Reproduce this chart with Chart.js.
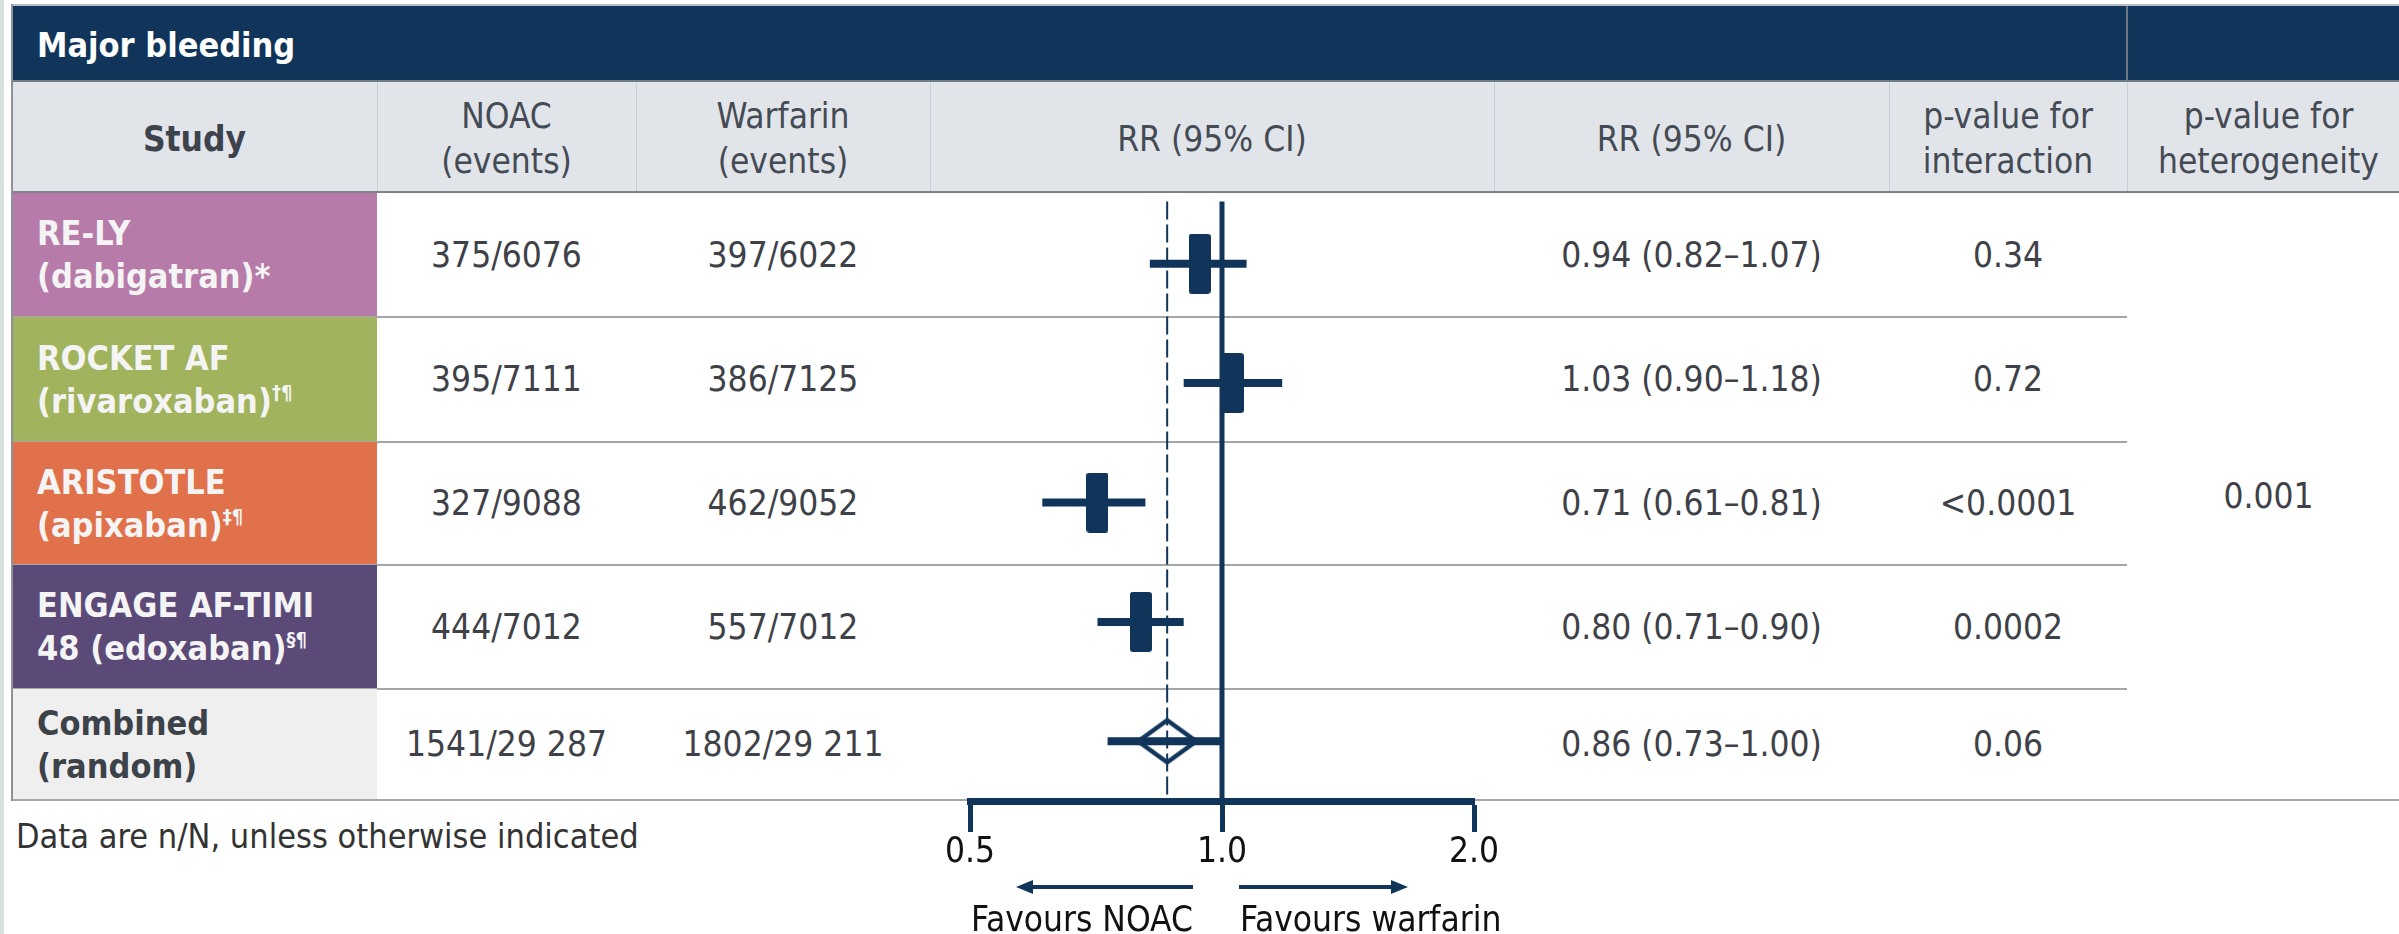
<!DOCTYPE html>
<html>
<head>
<meta charset="utf-8">
<title>Major bleeding</title>
<script src="https://cdn.jsdelivr.net/npm/chart.js@4.4.1/dist/chart.umd.min.js"></script>
<style>
    html, body { margin: 0; padding: 0; background: #fff; }
    body {
        width: 2399px; height: 934px; position: relative; overflow: hidden;
        font-family: 'DejaVu Sans Condensed', 'DejaVu Sans', sans-serif;
        font-stretch: condensed;
    }
    .box { position: absolute; box-sizing: border-box; }
    .cell {
        position: absolute; box-sizing: border-box;
        display: flex; align-items: center; justify-content: center; text-align: center;
        font-size: 35px; line-height: 45px; color: #3e4147;
    }
    .head { color: #454b54; padding-top: 5px; }
    .study { justify-content: flex-start; text-align: left; padding-left: 25px; font-weight: bold; color: #f4f4f4; font-size: 34px; line-height: 43px; }
    .study sup { font-size: 20px; line-height: 0; vertical-align: 14px; }
    #plot { position: absolute; left: 900px; top: 193px; z-index: 5; }
</style>
</head>
<body>
<canvas id="plot" width="660" height="741"></canvas>
<script>
// Forest plot data
const studyNames = ['RE-LY', 'ROCKET AF', 'ARISTOTLE', 'ENGAGE AF-TIMI', 'Combined'];
const studyDrugs = ['(dabigatran)', '(rivaroxaban)', '(apixaban)', '48 (edoxaban)', '(random)'];
const studyNotes = ['*', '†¶', '‡¶', '§¶', ''];
const studyColors = ['#b77ba9', '#a1b35c', '#e0714a', '#5b4a78', '#efefef'];
const noacEvents = ['375/6076', '395/7111', '327/9088', '444/7012', '1541/29 287'];
const warfarinEvents = ['397/6022', '386/7125', '462/9052', '557/7012', '1802/29 211'];
const rr = [0.94, 1.03, 0.71, 0.80, 0.86];
const ciLow = [0.82, 0.90, 0.61, 0.71, 0.73];
const ciHigh = [1.07, 1.18, 0.81, 0.90, 1.00];
const pInteraction = ['0.34', '0.72', '<0.0001', '0.0002', '0.06'];
const pHeterogeneity = '0.001';
const xTicks = [0.5, 1.0, 2.0];

const navy = '#11355a';
const fontFamily = "'DejaVu Sans Condensed', 'DejaVu Sans', sans-serif";

// Table grid (page pixels)
const colX = [12, 377, 636, 930, 1494, 1889, 2127, 2410];
const rowY = [193, 317, 442, 565, 689, 800];

function addBox(x, y, w, h, css, cls, html) {
    const el = document.createElement('div');
    el.className = cls || 'box';
    el.style.cssText = `left:${x}px;top:${y}px;width:${w}px;height:${h}px;${css || ''}`;
    if (html !== undefined) el.innerHTML = html;
    document.body.appendChild(el);
    return el;
}

function buildTable() {
    // left page strip
    addBox(0, 0, 4, 934, 'background:#d9e1dc;');

    // title bar
    addBox(12, 4, colX[7] - 12, 2, 'background:#b9bcc0;');
    addBox(12, 6, colX[7] - 12, 74, `background:${navy};`);
    addBox(colX[6] - 1, 6, 2, 74, 'background:#6c7783;');
    addBox(12, 8, colX[6] - 12, 74, 'color:#fff;font-weight:bold;font-size:34px;justify-content:flex-start;padding-left:25px;',
        'cell', 'Major bleeding');
    addBox(12, 80, colX[7] - 12, 2, 'background:#737b84;');

    // header row
    addBox(12, 82, colX[7] - 12, 109, 'background:#e1e5ea;');
    const heads = ['Study', 'NOAC<br>(events)', 'Warfarin<br>(events)', 'RR (95% CI)', 'RR (95% CI)',
        'p-value for<br>interaction', 'p-value for<br>heterogeneity'];
    heads.forEach((h, i) => {
        const css = i === 0 ? 'font-weight:bold;color:#3d434c;' : '';
        addBox(colX[i], 82, colX[i + 1] - colX[i], 109, css, 'cell head', h);
        if (i > 0) addBox(colX[i], 82, 1, 109, 'background:#c6ced7;');
    });
    addBox(12, 191, colX[7] - 12, 2, 'background:#7f8388;');

    // body rows
    studyNames.forEach((name, i) => {
        const y = rowY[i];
        const h = rowY[i + 1] - y;
        const note = studyNotes[i] === '*' ? '*' : (studyNotes[i] ? `<sup>${studyNotes[i]}</sup>` : '');
        const textColor = i === 4 ? 'color:#3d4148;' : '';
        addBox(12, y, colX[1] - 12, h, `background:${studyColors[i]};${textColor}`, 'cell study',
            `<div>${name}<br>${studyDrugs[i]}${note}</div>`);
        addBox(colX[1], y, colX[2] - colX[1], h, '', 'cell', noacEvents[i]);
        addBox(colX[2], y, colX[3] - colX[2], h, '', 'cell', warfarinEvents[i]);
        const rrText = `${rr[i].toFixed(2)} (${ciLow[i].toFixed(2)}–${ciHigh[i].toFixed(2)})`;
        addBox(colX[4], y, colX[5] - colX[4], h, '', 'cell', rrText);
        addBox(colX[5], y, colX[6] - colX[5], h, '', 'cell', pInteraction[i]);
        if (i < 4) addBox(12, rowY[i + 1] - 1, colX[6] - 12, 2, 'background:#a4a6a9;');
    });
    addBox(colX[6], rowY[0], colX[7] - colX[6], rowY[5] - rowY[0], '', 'cell', pHeterogeneity);
    addBox(12, rowY[5] - 1, colX[7] - 12, 2, 'background:#a4a6a9;');
    addBox(11, 4, 2, rowY[5] - 3, 'background:#8e9296;');

    addBox(16, 812, 900, 48, 'justify-content:flex-start;color:#333;font-size:34px;', 'cell',
        'Data are n/N, unless otherwise indicated');
}

// Marker images used as point styles
function makeBoxMarker() {
    const c = document.createElement('canvas');
    c.width = 22; c.height = 60;
    const g = c.getContext('2d');
    g.fillStyle = navy;
    g.beginPath();
    g.roundRect(0, 0, 22, 60, 3);
    g.fill();
    return c;
}

function makeDiamondMarker() {
    const c = document.createElement('canvas');
    c.width = 66; c.height = 50;
    const g = c.getContext('2d');
    g.strokeStyle = navy;
    g.lineWidth = 4.5;
    g.beginPath();
    g.moveTo(4, 25); g.lineTo(33, 4); g.lineTo(62, 25); g.lineTo(33, 46);
    g.closePath();
    g.stroke();
    return c;
}

// Arrows and "Favours" labels under the axis
const favoursPlugin = {
    id: 'favours',
    afterDraw(chart) {
        const ctx = chart.ctx;
        const x1 = chart.scales.x.getPixelForValue(1);
        const ay = 694;
        ctx.save();
        ctx.strokeStyle = navy;
        ctx.fillStyle = navy;
        ctx.lineWidth = 4;
        // left arrow
        ctx.beginPath(); ctx.moveTo(x1 - 29, ay); ctx.lineTo(x1 - 190, ay); ctx.stroke();
        ctx.beginPath(); ctx.moveTo(x1 - 206, ay); ctx.lineTo(x1 - 189, ay - 7); ctx.lineTo(x1 - 189, ay + 7); ctx.closePath(); ctx.fill();
        // right arrow
        ctx.beginPath(); ctx.moveTo(x1 + 17, ay); ctx.lineTo(x1 + 170, ay); ctx.stroke();
        ctx.beginPath(); ctx.moveTo(x1 + 186, ay); ctx.lineTo(x1 + 169, ay - 7); ctx.lineTo(x1 + 169, ay + 7); ctx.closePath(); ctx.fill();

        ctx.fillStyle = '#111';
        ctx.font = `35px ${fontFamily}`;
        ctx.textBaseline = 'alphabetic';
        ctx.textAlign = 'right';
        ctx.fillText('Favours NOAC', x1 - 29, 738);
        ctx.textAlign = 'left';
        ctx.fillText('Favours warfarin', x1 + 18, 738);
        ctx.restore();
    }
};

function initializeChart() {
    const boxMarker = makeBoxMarker();
    const diamondMarker = makeDiamondMarker();

    const studyPoints = rr.slice(0, 4).map((v, i) => ({ x: v, y: i }));
    const combinedPoint = [{ x: rr[4], y: 4 }];
    const ciPoints = [];
    rr.forEach((v, i) => {
        ciPoints.push({ x: ciLow[i], y: i }, { x: ciHigh[i], y: i }, { x: ciHigh[i], y: null });
    });

    new Chart(document.getElementById('plot'), {
        type: 'scatter',
        data: {
            datasets: [
                {
                    label: 'RR', data: studyPoints, pointStyle: boxMarker, pointRadius: 10, order: 0
                },
                {
                    label: 'Combined', data: combinedPoint, pointStyle: diamondMarker, pointRadius: 10, order: 0
                },
                {
                    type: 'line', label: '95% CI', data: ciPoints, borderColor: navy, borderWidth: 8,
                    pointRadius: 0, spanGaps: false, order: 1
                },
                {
                    type: 'line', label: 'No effect', data: [{ x: 1, y: -0.52 }, { x: 1, y: 4.5 }],
                    borderColor: navy, borderWidth: 5, pointRadius: 0, order: 2
                },
                {
                    type: 'line', label: 'Combined estimate', data: [{ x: rr[4], y: -0.52 }, { x: rr[4], y: 4.5 }],
                    borderColor: navy, borderWidth: 2, borderDash: [18, 5], pointRadius: 0, order: 2
                }
            ]
        },
        options: {
            responsive: false,
            animation: false,
            events: [],
            clip: false,
            layout: { padding: { left: 70, right: 86, top: 2, bottom: 0 } },
            plugins: {
                legend: { display: false },
                tooltip: { enabled: false }
            },
            scales: {
                x: {
                    type: 'logarithmic',
                    position: 'bottom',
                    min: 0.5,
                    max: 2,
                    afterBuildTicks: (scale) => { scale.ticks = xTicks.map(v => ({ value: v })); },
                    afterFit: (scale) => { scale.height = 133; },
                    ticks: {
                        callback: (v) => Number(v).toFixed(1),
                        color: '#111',
                        font: { family: fontFamily, size: 35 },
                        padding: 0,
                        maxRotation: 0
                    },
                    grid: {
                        drawOnChartArea: false,
                        drawTicks: true,
                        tickLength: 31,
                        tickWidth: 5,
                        tickColor: navy,
                        color: navy
                    },
                    border: { display: true, color: navy, width: 7 }
                },
                y: {
                    type: 'linear',
                    min: -0.5,
                    max: 4.5,
                    reverse: true,
                    display: false
                }
            }
        },
        plugins: [favoursPlugin]
    });
}

document.addEventListener('DOMContentLoaded', function () {
    buildTable();
    initializeChart();
});
</script>
</body>
</html>
